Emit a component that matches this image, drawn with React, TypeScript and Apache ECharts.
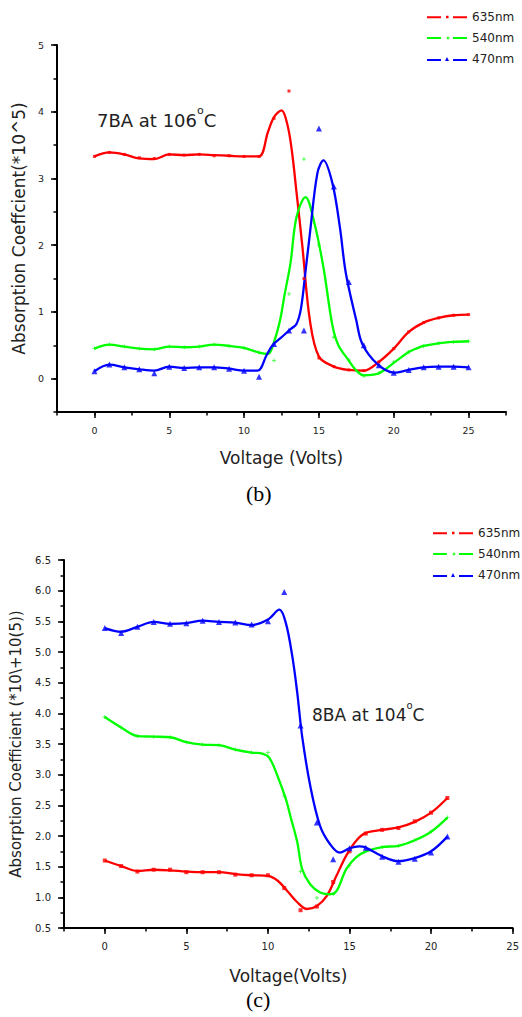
import React, { useEffect, useRef } from "react";
import * as echarts from "echarts";

// ---------- data ----------
const seriesNames = ["635nm", "540nm", "470nm"];

// Chart (b): 7BA at 106°C  — smoothed curves [voltage, value]
const bRedCurve = [[0,3.33],[1,3.39],[2,3.36],[3,3.30],[4,3.29],[5,3.36],[6,3.35],[7,3.36],[8,3.35],[9,3.34],[10,3.33],[11,3.33],[11.6,3.7],[12,3.92],[12.5,4.02],[12.9,3.8],[13.2,3.4],[13.5,2.8],[13.9,1.97],[14.4,0.87],[15,0.33],[16,0.18],[17,0.13],[18,0.12],[19,0.25],[20,0.45],[21,0.7],[22,0.84],[23,0.91],[24,0.95],[25,0.96]];
const bGreenCurve = [[0,0.45],[1,0.51],[2,0.48],[3,0.45],[4,0.44],[5,0.48],[6,0.47],[7,0.48],[8,0.51],[9,0.49],[10,0.46],[11,0.39],[11.6,0.37],[12,0.55],[12.4,0.87],[12.7,1.25],[13.1,1.73],[13.5,2.42],[14.1,2.72],[14.7,2.33],[15.3,1.67],[15.9,0.8],[16.3,0.5],[16.9,0.3],[17.5,0.12],[18,0.05],[18.9,0.07],[19.5,0.15],[20.2,0.27],[21,0.4],[21.5,0.45],[22,0.49],[23,0.53],[24,0.55],[25,0.56]];
const bBlueCurve = [[0,0.11],[1,0.21],[2,0.17],[3,0.14],[4,0.12],[5,0.18],[6,0.16],[7,0.17],[8,0.17],[9,0.15],[10,0.12],[10.9,0.12],[11.5,0.35],[11.9,0.5],[12.5,0.62],[13.1,0.74],[13.5,0.82],[13.8,1.05],[14.1,1.6],[14.4,2.18],[14.9,3.08],[15.3,3.27],[15.9,2.93],[16.4,2.27],[16.8,1.58],[17.5,0.87],[17.9,0.52],[18.9,0.22],[20,0.09],[21,0.13],[22,0.17],[23,0.18],[24,0.18],[25,0.17]];
// Chart (b) measured points (markers)
const bRedPts = [[0,3.33],[1,3.39],[2,3.36],[3,3.31],[4,3.3],[5,3.36],[6,3.35],[7,3.36],[8,3.34],[9,3.34],[10,3.33],[11,3.33],[12,3.9],[13,4.31],[14,1.5],[15,0.31],[16,0.18],[17,0.13],[18,0.12],[19,0.25],[20,0.45],[21,0.7],[22,0.84],[23,0.91],[24,0.95],[25,0.96]];
const bGreenPts = [[0,0.45],[1,0.51],[2,0.48],[3,0.45],[4,0.44],[5,0.48],[6,0.47],[7,0.48],[8,0.51],[9,0.49],[10,0.46],[11,0.39],[12,0.27],[13,1.27],[14,3.29],[15,2.0],[16,0.62],[17,0.28],[18,0.04],[19,0.08],[20,0.25],[21,0.4],[22,0.49],[23,0.53],[24,0.55],[25,0.56]];
const bBluePts = [[0,0.11],[1,0.21],[2,0.17],[3,0.14],[4,0.08],[5,0.18],[6,0.16],[7,0.17],[8,0.17],[9,0.15],[10,0.12],[11,0.03],[12,0.52],[13,0.72],[14,0.72],[15,3.75],[16,2.88],[17,1.45],[18,0.5],[19,0.2],[20,0.09],[21,0.13],[22,0.17],[23,0.18],[24,0.18],[25,0.17]];

// Chart (c): 8BA at 104°C
const cRedCurve = [[0,1.6],[1,1.51],[2,1.43],[3,1.45],[4,1.44],[5,1.42],[6,1.41],[7,1.41],[8,1.38],[9,1.36],[10,1.35],[10.6,1.27],[11.2,1.1],[11.8,0.92],[12.4,0.81],[13,0.86],[13.6,1.02],[14.2,1.35],[14.8,1.68],[15.4,1.92],[16,2.05],[17,2.1],[18,2.14],[19,2.23],[20,2.38],[21,2.62]];
const cGreenCurve = [[0,3.94],[1,3.77],[2,3.63],[3,3.62],[4,3.61],[5,3.53],[6,3.49],[7,3.48],[8,3.41],[9,3.36],[9.7,3.34],[10.1,3.27],[10.6,2.97],[11.1,2.6],[11.4,2.3],[11.8,1.9],[12.1,1.46],[12.6,1.21],[13.2,1.08],[13.8,1.05],[14.2,1.1],[14.8,1.46],[15.4,1.65],[16,1.75],[17,1.82],[18,1.84],[19,1.93],[20,2.07],[21,2.3]];
const cBlueCurve = [[0,5.39],[1,5.33],[2,5.41],[3,5.49],[4,5.46],[5,5.47],[6,5.51],[7,5.49],[8,5.48],[9,5.44],[10,5.53],[10.7,5.69],[11.1,5.47],[11.5,4.92],[11.8,4.33],[12.1,3.62],[12.6,2.81],[13.2,2.16],[13.8,1.87],[14.4,1.73],[15,1.8],[15.6,1.83],[16,1.81],[17,1.67],[18,1.59],[19,1.64],[20,1.75],[21,1.99]];
const cRedPts = [[0,1.6],[1,1.51],[2,1.42],[3,1.45],[4,1.45],[5,1.41],[6,1.41],[7,1.41],[8,1.37],[9,1.36],[10,1.36],[11,1.15],[12,0.79],[13,0.85],[14,1.25],[15,1.75],[16,2.04],[17,2.1],[18,2.13],[19,2.24],[20,2.38],[21,2.62]];
const cGreenPts = [[0,3.94],[1,3.77],[2,3.63],[3,3.62],[4,3.61],[5,3.53],[6,3.49],[7,3.48],[8,3.41],[9,3.36],[10,3.36],[11,2.65],[12,1.42],[13,0.99],[14,1.05],[15,1.52],[16,1.75],[17,1.82],[18,1.84],[19,1.93],[20,2.07],[21,2.3]];
const cBluePts = [[0,5.39],[1,5.31],[2,5.41],[3,5.49],[4,5.46],[5,5.47],[6,5.51],[7,5.49],[8,5.48],[9,5.45],[10,5.5],[11,5.98],[12,3.8],[13,2.22],[14,1.62],[15,1.8],[16,1.81],[17,1.66],[18,1.58],[19,1.63],[20,1.73],[21,1.99]];

// tick labels
const bXTicks = [0, 5, 10, 15, 20, 25];
const bYTicks = [0, 1, 2, 3, 4, 5];
const cXTicks = [0, 5, 10, 15, 20, 25];
const cYTicks = [0.5, 1.0, 1.5, 2.0, 2.5, 3.0, 3.5, 4.0, 4.5, 5.0, 5.5, 6.0, 6.5];

// ---------- styles ----------
const SANS = '"DejaVu Sans", Verdana, sans-serif';
const SERIF = '"Liberation Serif", "Times New Roman", serif';
const TXT = "#222";
const COLORS = ["#ff0000", "#00ff00", "#0000ff"];
const PLUS = "path://M2,0H3V2H5V3H3V5H2V3H0V2H2Z";
const SYMBOLS = ["rect", PLUS, "triangle"];
// legend icons: dash, marker, dash (40 px wide)
const LEGEND_ICONS = [
  "path://M0,1H14V3H0Z M19,0.5H21.5V3H19Z M26,1H40V3H26Z",
  "path://M0,1.5H14V3.5H0Z M19.5,2H22.5V3H19.5Z M20.5,1H21.5V4H20.5Z M26,1.5H40V3.5H26Z",
  "path://M0,3H14V5H0Z M18,5L20,1L22,5Z M26,3H40V5H26Z",
];

function majorAxis(grid: number, dim: "x" | "y", min: number, max: number, step: number, ticks: number[], fmt: (v: number) => string, name: string, nameGap: number, nameSize: number, labelSize: number) {
  return {
    type: "value",
    gridIndex: grid,
    position: dim === "x" ? "bottom" : "left",
    min, max, interval: step,
    name,
    nameLocation: "middle",
    nameGap,
    nameRotate: dim === "y" ? 90 : 0,
    nameTextStyle: { fontFamily: SANS, fontSize: nameSize, color: TXT },
    axisLine: { show: true, onZero: false, lineStyle: { color: "#000", width: 2 } },
    axisTick: { show: true, customValues: ticks, length: 6, lineStyle: { color: "#000", width: 1.5 } },
    axisLabel: { show: true, customValues: ticks, formatter: (v: number) => fmt(v), margin: 13, fontFamily: SANS, fontSize: labelSize, color: TXT },
    splitLine: { show: false },
  };
}
function minorAxis(grid: number, dim: "x" | "y", min: number, max: number, step: number) {
  return {
    type: "value",
    gridIndex: grid,
    position: dim === "x" ? "bottom" : "left",
    min, max, interval: step,
    axisLine: { show: false, onZero: false },
    axisTick: { show: true, length: 3.5, lineStyle: { color: "#000", width: 1.5 } },
    axisLabel: { show: false },
    splitLine: { show: false },
  };
}

function lineSeries(i: number, curve: number[][], axisIdx: number) {
  return {
    type: "line",
    name: seriesNames[i],
    xAxisIndex: axisIdx,
    yAxisIndex: axisIdx,
    data: curve,
    smooth: 0.35,
    showSymbol: false,
    symbol: SYMBOLS[i],
    lineStyle: { color: COLORS[i], width: 2.3 },
    itemStyle: { color: COLORS[i] },
    z: 3,
  };
}
function markSeries(i: number, pts: number[][], axisIdx: number, size: number) {
  return {
    type: "scatter",
    name: seriesNames[i],
    xAxisIndex: axisIdx,
    yAxisIndex: axisIdx,
    data: pts,
    symbol: SYMBOLS[i],
    symbolSize: i === 2 ? size + 1 : size,
    itemStyle: { color: COLORS[i] },
    z: 4,
  };
}

function legend(top: number, left: number) {
  return {
    data: seriesNames.map((n, i) => ({ name: n, icon: LEGEND_ICONS[i] })),
    orient: "vertical",
    left, top,
    padding: 0,
    itemWidth: 40,
    itemHeight: 5,
    itemGap: 7,
    symbolKeepAspect: true,
    textStyle: { fontFamily: SANS, fontSize: 12, color: TXT, lineHeight: 14 },
  };
}

function degreeText(prefix: string, x: number, y: number, size: number) {
  return {
    type: "text",
    left: x,
    top: y,
    style: {
      text: `{a|${prefix}}{s|o}{a|C}`,
      rich: {
        a: { fontFamily: SANS, fontSize: size, fill: TXT, lineHeight: size + 6, verticalAlign: "bottom" },
        s: { fontFamily: SANS, fontSize: Math.round(size * 0.6), fill: TXT, lineHeight: size + 6, verticalAlign: "top" },
      },
    },
  };
}

export default function App() {
  const ref = useRef<HTMLDivElement>(null);
  useEffect(() => {
    if (!ref.current) return;
    const chart = echarts.init(ref.current, undefined, { renderer: "svg" });
    const intFmt = (v: number) => String(Math.round(v));
    const oneFmt = (v: number) => v.toFixed(1);
    chart.setOption({
      animation: false,
      backgroundColor: "#fff",
      grid: [
        { left: 57, top: 45, width: 449, height: 367, containLabel: false },
        { left: 63, top: 560, width: 452, height: 368, containLabel: false },
      ],
      xAxis: [
        majorAxis(0, "x", -2.5, 27.5, 2.5, bXTicks, intFmt, "Voltage (Volts)", 37, 17, 9.5),
        minorAxis(0, "x", -2.5, 27.5, 2.5),
        majorAxis(1, "x", -2.5, 25, 2.5, cXTicks, intFmt, "Voltage(Volts)", 39, 17, 10),
        minorAxis(1, "x", -2.5, 25, 2.5),
      ],
      yAxis: [
        majorAxis(0, "y", -0.5, 5, 0.5, bYTicks, intFmt, "Absorption Coeffcient(*10^5)", 29, 17, 9.5),
        minorAxis(0, "y", -0.5, 5, 0.5),
        majorAxis(1, "y", 0.5, 6.5, 0.25, cYTicks, oneFmt, "Absorption Coefficient (*10\\+10(5))", 41, 15, 10),
        minorAxis(1, "y", 0.5, 6.5, 0.25),
      ],
      legend: [legend(10, 427), legend(526, 433)],
      series: [
        lineSeries(0, bRedCurve, 0),
        lineSeries(1, bGreenCurve, 0),
        lineSeries(2, bBlueCurve, 0),
        markSeries(0, bRedPts, 0, 3),
        markSeries(1, bGreenPts, 0, 4),
        markSeries(2, bBluePts, 0, 5),
        lineSeries(0, cRedCurve, 2),
        lineSeries(1, cGreenCurve, 2),
        lineSeries(2, cBlueCurve, 2),
        markSeries(0, cRedPts, 2, 4),
        markSeries(1, cGreenPts, 2, 4),
        markSeries(2, cBluePts, 2, 5),
      ],
      graphic: [
        degreeText("7BA at 106", 97, 105, 18),
        degreeText("8BA at 104", 312, 700, 17),
        { type: "text", left: 246, top: 482, style: { text: "(b)", fontFamily: SERIF, fontSize: 22, fill: "#000" } },
        { type: "text", left: 246, top: 988, style: { text: "(c)", fontFamily: SERIF, fontSize: 22, fill: "#000" } },
      ],
    });
    return () => chart.dispose();
  }, []);
  return <div ref={ref} style={{ position: "absolute", left: 0, top: 0, width: 522, height: 1017 }} />;
}
